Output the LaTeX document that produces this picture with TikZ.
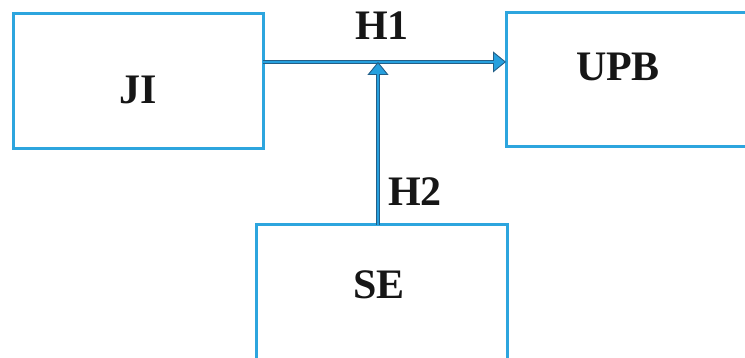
\documentclass[tikz,border=0pt]{standalone}
\usepackage{fontspec}
\setmainfont{Liberation Serif}
\usetikzlibrary{arrows.meta,calc}
\definecolor{boxblue}{RGB}{45,165,222}
\definecolor{arrblue}{RGB}{38,160,222}
\definecolor{arredge}{RGB}{35,95,135}
\definecolor{txt}{RGB}{22,22,22}
\tikzset{
  box/.style={draw=boxblue, line width=3pt, inner sep=0pt, outer sep=0pt},
  lbl/.style={font=\fontsize{42}{48}\selectfont\bfseries, text=txt, inner sep=0pt, anchor=base},
  connouter/.style={draw=arredge, line width=4.6pt,
    -{Triangle[length=13pt,width=21pt,fill=arrblue,color=arredge,line width=0.9pt]}},
  conninner/.style={draw=arrblue, line width=2.6pt, shorten >=12pt},
}
\begin{document}
\begin{tikzpicture}[x=1pt,y=-1pt]
\useasboundingbox (0,0) rectangle (745,358);
\clip (0,0) rectangle (745,358);
\fill[white] (0,0) rectangle (745,358);
% boxes
\node[box, minimum width=250pt, minimum height=135pt] (JI) at (138,81.5) {};
\node[box, minimum width=256pt, minimum height=134pt] (UPB) at (634,80) {};
\node[box, minimum width=251pt, minimum height=145pt] (SE) at (381.5,297.5) {};
% labels
\node[lbl] (tJI) at (138,104) {JI};
\node[lbl] (tUPB) at (618,81) {UPB};
\node[lbl] (tSE) at (379,299) {SE};
\node[lbl] (tH1) at (382,40) {H1};
\node[lbl] (tH2) at (415,206) {H2};
% connector end points
\coordinate (hs) at ($(JI.north east)!0.355!(JI.south east)$);
\coordinate (he) at (UPB.west |- hs);
\coordinate (vs) at ($(SE.north west)!0.486!(SE.north east)$);
\coordinate (ve) at (vs |- hs);
% connectors
\draw[connouter] (hs) -- (he);
\draw[conninner] (hs) -- (he);
\draw[connouter] (vs) -- (ve);
\draw[conninner] (vs) -- (ve);
\end{tikzpicture}
\end{document}
